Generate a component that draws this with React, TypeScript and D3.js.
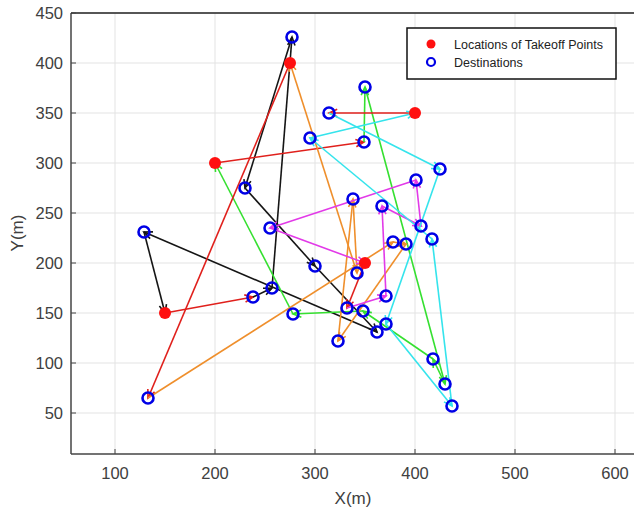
import React from 'react';
import * as d3 from 'd3';

// takeoff points (red dots)
const takeoffPoints: [number, number][] = [
  [150, 150],
  [200, 300],
  [275, 400],
  [350, 200],
  [400, 350],
];

// each drone route: takeoff -> destinations -> back to takeoff
// first leg is drawn red, the rest in the route colour
const blackRoute: [number, number][] = [
  [150, 150], [238, 166], [257, 175], [277, 426], [230, 275], [300, 197], [362, 131], [129, 231], [150, 150],
];
const greenRoute: [number, number][] = [
  [200, 300], [349, 321], [350, 376], [430, 79], [418, 104], [348, 152], [278, 149], [200, 300],
];
const orangeRoute: [number, number][] = [
  [275, 400], [133, 65], [378, 221], [391, 219], [323, 122], [338, 264], [342, 190], [275, 400],
];
const magentaRoute: [number, number][] = [
  [350, 200], [332, 155], [371, 167], [367, 257], [406, 237], [401, 283], [255, 235], [350, 200],
];
const cyanRoute: [number, number][] = [
  [400, 350], [314, 350], [425, 294], [371, 139], [437, 57], [417, 224], [295, 325], [400, 350],
];

const routes = [
  { pts: blackRoute, color: '#151515' },
  { pts: greenRoute, color: '#35e030' },
  { pts: orangeRoute, color: '#ef8f2c' },
  { pts: magentaRoute, color: '#e23ae8' },
  { pts: cyanRoute, color: '#35e4ec' },
];
const firstLegColor = '#e0201c';

const xTicks = [100, 200, 300, 400, 500, 600];
const yTicks = [50, 100, 150, 200, 250, 300, 350, 400, 450];

export default function App() {
  const W = 634;
  const H = 510;

  const x = d3.scaleLinear().domain([56, 640]).range([71, 655]);
  const y = d3.scaleLinear().domain([9, 450]).range([454, 13]);

  const destinations = routes.flatMap((r) => r.pts.slice(1, -1));

  const segs: { x1: number; y1: number; x2: number; y2: number; c: string }[] = [];
  routes.forEach((r) => {
    for (let i = 0; i < r.pts.length - 1; i++) {
      const a = r.pts[i];
      const b = r.pts[i + 1];
      segs.push({
        x1: x(a[0]),
        y1: y(a[1]),
        x2: x(b[0]),
        y2: y(b[1]),
        c: i === 0 ? firstLegColor : r.color,
      });
    }
  });

  // open V arrowhead at end of segment
  function head(s: { x1: number; y1: number; x2: number; y2: number }) {
    const ang = Math.atan2(s.y2 - s.y1, s.x2 - s.x1);
    const len = 9;
    const spread = 0.42;
    const p1 = [s.x2 - len * Math.cos(ang - spread), s.y2 - len * Math.sin(ang - spread)];
    const p2 = [s.x2 - len * Math.cos(ang + spread), s.y2 - len * Math.sin(ang + spread)];
    return `M${p1[0]},${p1[1]}L${s.x2},${s.y2}L${p2[0]},${p2[1]}`;
  }

  const font = "'Liberation Sans', Arial, Helvetica, sans-serif";
  const tickColor = '#404040';

  return (
    <svg width={W} height={H} style={{ display: 'block', position: 'absolute', left: 0, top: 0 }}>
      <rect x={0} y={0} width={W} height={H} fill="#fff" />
      <defs>
        <clipPath id="plot">
          <rect x={71} y={13} width={584} height={441} />
        </clipPath>
      </defs>
      {/* grid */}
      <g stroke="#e3e3e3" strokeWidth={1}>
        {xTicks.map((t) => (
          <line key={'gx' + t} x1={x(t)} x2={x(t)} y1={y(9)} y2={y(450)} />
        ))}
        {yTicks.map((t) => (
          <line key={'gy' + t} x1={x(56)} x2={x(640)} y1={y(t)} y2={y(t)} />
        ))}
      </g>
      {/* routes */}
      <g clipPath="url(#plot)" fill="none" strokeWidth={1.6}>
        {segs.map((s, i) => (
          <g key={i} stroke={s.c}>
            <line x1={s.x1} y1={s.y1} x2={s.x2} y2={s.y2} />
            <path d={head(s)} />
          </g>
        ))}
      </g>
      {/* markers */}
      <g>
        {takeoffPoints.map((p, i) => (
          <circle key={'t' + i} cx={x(p[0])} cy={y(p[1])} r={6} fill="#ff1010" />
        ))}
        {destinations.map((p, i) => (
          <circle key={'d' + i} cx={x(p[0])} cy={y(p[1])} r={5.5} fill="none" stroke="#0000e6" strokeWidth={2.6} />
        ))}
      </g>
      {/* axes */}
      <g stroke="#444" strokeWidth={1.5} fill="none">
        <line x1={71} x2={W} y1={454} y2={454} />
        <line x1={71} x2={71} y1={13} y2={454} />
        <line x1={71} x2={W} y1={13} y2={13} stroke="#222" />
        {xTicks.map((t) => (
          <line key={'tx' + t} x1={x(t)} x2={x(t)} y1={454} y2={449} strokeWidth={1} />
        ))}
        {yTicks.map((t) => (
          <line key={'ty' + t} x1={71} x2={76} y1={y(t)} y2={y(t)} strokeWidth={1} />
        ))}
      </g>
      <g fontFamily={font} fontSize={16.5} fill={tickColor}>
        {xTicks.map((t) => (
          <text key={'lx' + t} x={x(t)} y={479} textAnchor="middle">
            {t}
          </text>
        ))}
        {yTicks.map((t) => (
          <text key={'ly' + t} x={63} y={y(t) + 6} textAnchor="end">
            {t}
          </text>
        ))}
        <text x={353} y={504} textAnchor="middle" fontSize={17}>
          X(m)
        </text>
        <text transform="translate(23,233) rotate(-90)" textAnchor="middle" fontSize={17}>
          Y(m)
        </text>
      </g>
      {/* legend */}
      <g fontFamily={font} fontSize={12.5} fill="#222">
        <rect x={407} y={28} width={209} height={51} fill="#fff" stroke="#111" strokeWidth={1.5} />
        <circle cx={431} cy={44} r={4.5} fill="#ff1010" />
        <circle cx={431} cy={62} r={4} fill="none" stroke="#0000e6" strokeWidth={2.2} />
        <text x={454} y={48.5}>Locations of Takeoff Points</text>
        <text x={454} y={66.5}>Destinations</text>
      </g>
    </svg>
  );
}
